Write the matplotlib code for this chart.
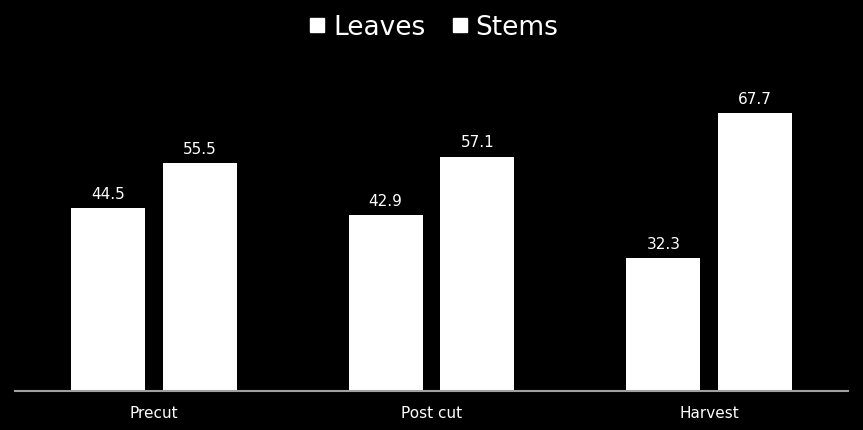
import matplotlib
matplotlib.use("Agg")
import matplotlib.pyplot as plt
from matplotlib.lines import Line2D
import numpy as np

categories = ["Precut", "Post cut", "Harvest"]
leaves = [44.5, 42.9, 32.3]
stems = [55.5, 57.1, 67.7]

fig = plt.figure(figsize=(8.63, 4.31), dpi=100, facecolor="black")
ax = fig.add_axes([15 / 863, 39 / 431, 833 / 863, 330 / 431])
ax.set_facecolor("black")

x = np.arange(len(categories))
w = 0.267
off = 0.165
b1 = ax.bar(x - off, leaves, w, color="white", label="Leaves")
b2 = ax.bar(x + off, stems, w, color="white", label="Stems")

for bars, vals in ((b1, leaves), (b2, stems)):
    for r, v in zip(bars, vals):
        ax.text(r.get_x() + r.get_width() / 2, v + 1.8, f"{v:.1f}",
                ha="center", va="bottom", color="white", fontsize=11)

ax.set_xlim(-0.5, 2.5)
ax.set_ylim(0, 80.4)
ax.set_xticks(x)
ax.set_xticklabels(categories, color="white", fontsize=11)
ax.tick_params(axis="x", length=0, pad=10)
ax.set_yticks([])
for s in ["top", "right", "left"]:
    ax.spines[s].set_visible(False)
ax.spines["bottom"].set_color("#a0a0a0")
ax.spines["bottom"].set_linewidth(1.5)

handles = [Line2D([], [], marker="s", color="white", linestyle="none", markersize=10)
           for _ in ("Leaves", "Stems")]
leg = fig.legend(handles, ["Leaves", "Stems"], loc="center",
                 bbox_to_anchor=(434 / 863, 1 - 28 / 431),
                 ncol=2, frameon=False, fontsize=19, handlelength=0.6,
                 handletextpad=0.3, columnspacing=1.0)
for t in leg.get_texts():
    t.set_color("white")

fig.savefig("out.png", facecolor="black")
